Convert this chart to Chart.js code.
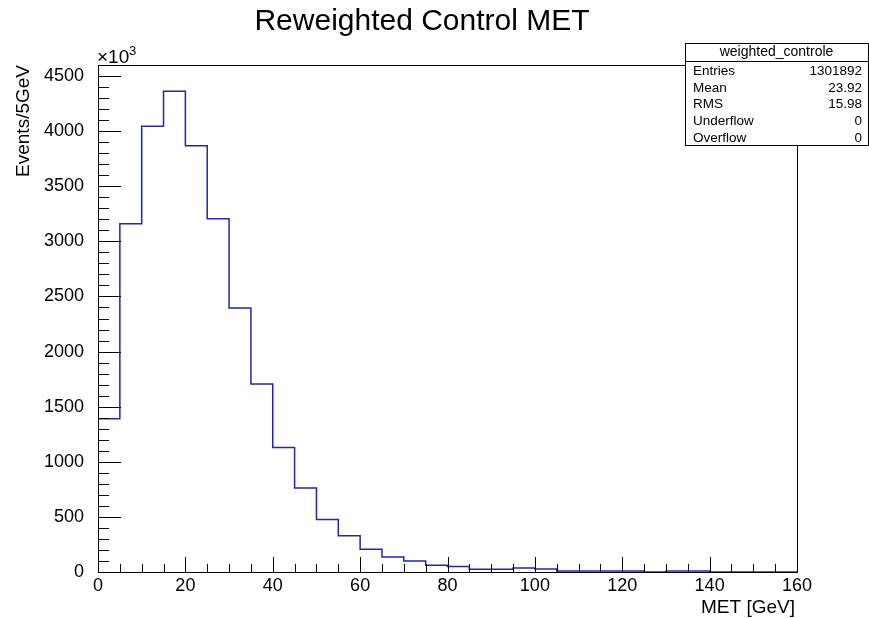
<!DOCTYPE html>
<html>
<head>
<meta charset="utf-8">
<script src="https://cdn.jsdelivr.net/npm/chart.js@4.4.0/dist/chart.umd.min.js"></script>
<style>
  body { margin: 0; background: #fff; }
  canvas { display: block; }
</style>
</head>
<body>
<canvas id="hist" width="869" height="618"></canvas>
<script>
// histogram bins (low edges, GeV) and contents (x10^3 events per 5 GeV)
const binLow = [0, 5, 10, 15, 20, 25, 30, 35, 40, 45, 50, 55, 60, 65, 70, 75,
                80, 85, 90, 95, 100, 105, 110, 115, 120, 125, 130, 135, 140, 145, 150, 155];
const xMax = 160;
const counts = [1390, 3160, 4045, 4361, 3868, 3205, 2395, 1706, 1130, 763, 476, 330, 206, 136, 100, 61,
                49, 24, 24, 36, 27, 9, 9, 9, 9, 0, 8, 8, 0, 0, 0, 0];

// axis tick labels
const xTicks = [0, 20, 40, 60, 80, 100, 120, 140, 160];
const yTicks = [0, 500, 1000, 1500, 2000, 2500, 3000, 3500, 4000, 4500];
const yMax = 4600;

// stats box
const statsTitle = "weighted_controle";
const statsLabels = ["Entries", "Mean", "RMS", "Underflow", "Overflow"];
const statsValues = ["1301892", "23.92", "15.98", "0", "0"];

const FONT = "'Liberation Sans', Arial, sans-serif";

// stepped line points from the bins
const points = binLow.map((x, i) => ({ x: x, y: counts[i] }));
points.push({ x: xMax, y: counts[counts.length - 1] });

// ROOT-like frame, inside ticks, titles and stats box
const rootStyle = {
  id: "rootStyle",
  afterDatasetsDraw(chart) {
    const ctx = chart.ctx;
    const a = chart.chartArea;
    const xs = chart.scales.x, ys = chart.scales.y;
    ctx.save();
    ctx.strokeStyle = "#000";
    ctx.lineWidth = 1;
    ctx.strokeRect(a.left + 0.5, a.top + 0.5, a.right - a.left, a.bottom - a.top);
    ctx.beginPath();
    // x ticks: major every 20, minor every 5
    for (let v = 0; v <= xMax; v += 5) {
      const px = Math.round(xs.getPixelForValue(v)) + 0.5;
      const len = v % 20 === 0 ? 15 : 8;
      ctx.moveTo(px, a.bottom);
      ctx.lineTo(px, a.bottom - len);
    }
    // y ticks: major every 500, minor every 100
    for (let v = 0; v <= yMax; v += 100) {
      const py = Math.round(ys.getPixelForValue(v)) + 0.5;
      const len = v % 500 === 0 ? 23 : 11;
      ctx.moveTo(a.left, py);
      ctx.lineTo(a.left + len, py);
    }
    ctx.stroke();
    ctx.restore();
  },
  afterDraw(chart) {
    const ctx = chart.ctx;
    const a = chart.chartArea;
    ctx.save();
    ctx.fillStyle = "#000";
    // title
    ctx.font = "30px " + FONT;
    ctx.textAlign = "center";
    ctx.textBaseline = "middle";
    ctx.fillText("Reweighted Control MET", 422, 22);
    // x title
    ctx.font = "19px " + FONT;
    ctx.textAlign = "right";
    ctx.textBaseline = "alphabetic";
    ctx.fillText("MET [GeV]", a.right - 2, 613);
    // y title
    ctx.save();
    ctx.translate(29, a.top);
    ctx.rotate(-Math.PI / 2);
    ctx.textAlign = "right";
    ctx.fillText("Events/5GeV", 0, 0);
    ctx.restore();
    // x10^3
    ctx.font = "19px " + FONT;
    ctx.textAlign = "left";
    ctx.fillText("\u00d710", 97, 63);
    ctx.font = "13px " + FONT;
    ctx.fillText("3", 129, 55);
    // stats box
    const bx = 685, by = 43, bw = 183, bh = 102;
    ctx.fillStyle = "#fff";
    ctx.fillRect(bx, by, bw, bh);
    ctx.strokeStyle = "#000";
    ctx.lineWidth = 1;
    ctx.strokeRect(bx + 0.5, by + 0.5, bw, bh);
    ctx.beginPath();
    ctx.moveTo(bx, by + 18.5);
    ctx.lineTo(bx + bw, by + 18.5);
    ctx.stroke();
    ctx.fillStyle = "#000";
    ctx.font = "14px " + FONT;
    ctx.textAlign = "center";
    ctx.textBaseline = "middle";
    ctx.fillText(statsTitle, bx + bw / 2, by + 9);
    ctx.font = "13.5px " + FONT;
    statsLabels.forEach((lab, i) => {
      const yy = 71 + i * 16.8;
      ctx.textAlign = "left";
      ctx.fillText(lab, 693, yy);
      ctx.textAlign = "right";
      ctx.fillText(statsValues[i], 862, yy);
    });
    ctx.restore();
  }
};

new Chart(document.getElementById("hist"), {
  type: "line",
  data: {
    datasets: [{
      data: points,
      stepped: "before",
      borderColor: "#2424b0",
      borderWidth: 1.5,
      pointRadius: 0,
      fill: false
    }]
  },
  options: {
    responsive: false,
    animation: false,
    layout: { padding: { top: 65, right: 72, left: 0, bottom: 0 } },
    plugins: { legend: { display: false }, tooltip: { enabled: false } },
    scales: {
      x: {
        type: "linear",
        min: 0,
        max: xMax,
        grid: { display: false },
        border: { display: false },
        afterBuildTicks(s) { s.ticks = xTicks.map(v => ({ value: v })); },
        ticks: {
          maxRotation: 0,
          autoSkip: false,
          padding: -5,
          color: "#000",
          font: { family: FONT, size: 18 },
          callback: v => String(v)
        },
        afterFit(s) { s.height = 46; }
      },
      y: {
        min: 0,
        max: yMax,
        grid: { display: false },
        border: { display: false },
        afterBuildTicks(s) { s.ticks = yTicks.map(v => ({ value: v })); },
        ticks: {
          autoSkip: false,
          padding: 6,
          color: "#000",
          font: { family: FONT, size: 18 },
          callback: v => String(v)
        },
        afterFit(s) { s.width = 98; }
      }
    }
  },
  plugins: [rootStyle]
});
</script>
</body>
</html>
